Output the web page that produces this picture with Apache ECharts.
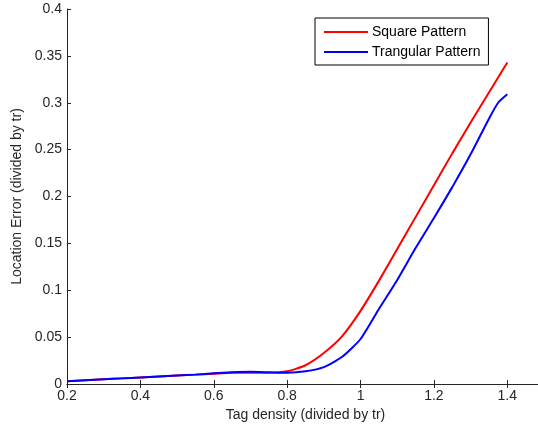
<!DOCTYPE html>
<html>
<head>
<meta charset="utf-8">
<script src="https://cdn.jsdelivr.net/npm/echarts@6/dist/echarts.min.js"></script>
<style>
html,body{margin:0;padding:0;background:#fff;overflow:hidden;}
#c{width:538px;height:430px;}
</style>
</head>
<body>
<div id="c"></div>
<script>
var xValues = [0.2,0.25,0.3,0.35,0.4,0.45,0.5,0.55,0.6,0.65,0.7,0.75,0.8,0.85,0.9,0.95,1.0,1.05,1.1,1.15,1.2,1.25,1.3,1.35,1.375,1.4];
var squarePattern = [0.003,0.004,0.005,0.006,0.007,0.008,0.009,0.010,0.011,0.012,0.012,0.012,0.0135,0.020,0.033,0.051,0.078,0.110,0.144,0.178,0.212,0.246,0.279,0.311,0.327,0.343];
var triangularPattern = [0.003,0.004,0.005,0.006,0.007,0.008,0.009,0.010,0.0115,0.0125,0.013,0.0125,0.012,0.0135,0.018,0.029,0.048,0.080,0.111,0.145,0.177,0.210,0.245,0.283,0.300,0.309];
var seriesNames = ['Square Pattern','Trangular Pattern'];
var xTitle = 'Tag density (divided by tr)';
var yTitle = 'Location Error (divided by tr)';

function pairs(xs, ys){ return xs.map(function(x,i){ return [x, ys[i]]; }); }
var font = 'Liberation Sans, Arial, sans-serif';
var axisColor = '#262626';
var fmt = function(v){ return String(+v.toFixed(2)); };
var xfmt = function(v){ return v > 1.45 ? '' : String(+v.toFixed(2)); };

var chart = echarts.init(document.getElementById('c'), null, {renderer:'canvas'});
chart.setOption({
  animation:false,
  backgroundColor:'#fff',
  grid:{left:67, top:9, width:477, height:375, containLabel:false, outerBoundsMode:'none'},
  legend:{
    data:seriesNames,
    orient:'vertical',
    left:315, top:18,
    padding:[7,8,6,9],
    itemGap:6,
    itemWidth:44, itemHeight:2,
    icon:'rect',
    borderColor:'#000', borderWidth:1, backgroundColor:'#fff',
    textStyle:{fontFamily:font, fontSize:14, color:'#000', padding:[0,0,0,-1]}
  },
  xAxis:[{
    type:'value', min:0.2, max:1.5, interval:0.2,
    name:xTitle, nameLocation:'middle', nameGap:23,
    nameTextStyle:{fontFamily:font, fontSize:14, color:axisColor},
    axisLine:{lineStyle:{color:axisColor, width:1}},
    axisTick:{inside:true, length:4, lineStyle:{color:axisColor}},
    axisLabel:{fontFamily:font, fontSize:14, color:axisColor, margin:5, formatter:xfmt},
    splitLine:{show:false}
  },{
    type:'value', position:'top', min:0.2, max:1.5, interval:0.2,
    axisLine:{show:true, lineStyle:{color:axisColor, width:1}},
    axisTick:{inside:true, length:4, lineStyle:{color:axisColor}},
    axisLabel:{show:false}, splitLine:{show:false}
  }],
  yAxis:[{
    type:'value', min:0, max:0.4, interval:0.05,
    name:yTitle, nameLocation:'middle', nameGap:43, nameRotate:90,
    nameTextStyle:{fontFamily:font, fontSize:14, color:axisColor},
    axisLine:{show:true, lineStyle:{color:axisColor, width:1}},
    axisTick:{show:true, inside:true, length:4, lineStyle:{color:axisColor}},
    axisLabel:{fontFamily:font, fontSize:14, color:axisColor, margin:5, formatter:fmt},
    splitLine:{show:false}
  },{
    type:'value', position:'right', min:0, max:0.4, interval:0.05,
    axisLine:{show:true, lineStyle:{color:axisColor}},
    axisTick:{show:true, inside:true, length:4},
    axisLabel:{show:false}, splitLine:{show:false}
  }],
  series:[{
    name:seriesNames[0], type:'line', smooth:0.2, showSymbol:false, symbol:'none',
    data:pairs(xValues, squarePattern),
    lineStyle:{color:'#f00', width:2}, itemStyle:{color:'#f00'}, z:2
  },{
    name:seriesNames[1], type:'line', smooth:0.2, showSymbol:false, symbol:'none',
    data:pairs(xValues, triangularPattern),
    lineStyle:{color:'#00f', width:2}, itemStyle:{color:'#00f'}, z:3
  }]
});
</script>
</body>
</html>
